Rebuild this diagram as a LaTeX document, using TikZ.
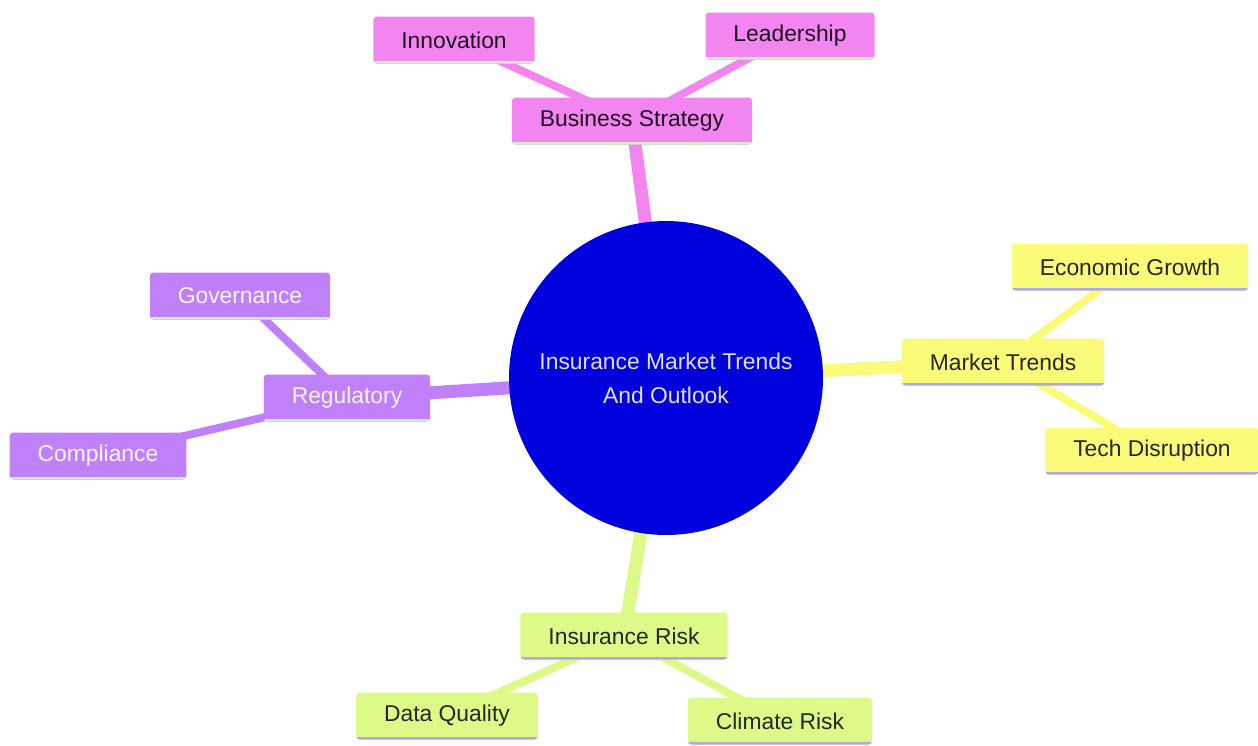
\documentclass[tikz,border=0pt]{standalone}
\usepackage{fontspec}
\setmainfont{Liberation Sans}
\usetikzlibrary{backgrounds}

\definecolor{rootblue}{HTML}{0000DC}
\definecolor{stratpink}{HTML}{F285F0}
\definecolor{regpurple}{HTML}{C080FA}
\definecolor{trendyellow}{HTML}{FBFB7A}
\definecolor{riskgreen}{HTML}{DDFA88}
\definecolor{lineGreen}{HTML}{C6F2BE}
\definecolor{lineLav}{HTML}{B4A6E6}

\tikzset{
  topic/.style={rectangle, rounded corners=2pt, minimum height=0.94cm,
    inner xsep=0.56cm, outer sep=0pt, font=\fontsize{13}{15}\selectfont},
  underline/.style={path picture={\draw[#1, line width=3.4pt]
    (path picture bounding box.south west) -- (path picture bounding box.south east);}},
  pinkbox/.style={topic, fill=stratpink, text=black!80!stratpink!60!black, underline=lineGreen},
  purplebox/.style={topic, fill=regpurple, text=white!92!regpurple, underline=lineGreen},
  yellowbox/.style={topic, fill=trendyellow, text=black!85, underline=lineLav},
  greenbox/.style={topic, fill=riskgreen, text=black!85, underline=lineLav},
  main/.style={line width=7.4pt},
  sub/.style={line width=4.5pt}
}

\begin{document}
\begin{tikzpicture}[x=0.02cm, y=-0.02cm]
      \useasboundingbox (0,0) rectangle (1258,745);
      % centre
      \node[circle, fill=rootblue, minimum size=6.28cm, inner sep=0pt, outer sep=0pt,
        text=white!88!blue, align=center, font=\fontsize{13}{19.5}\selectfont]
        (root) at (666,378) {Insurance Market Trends\\And Outlook};
      % branches
      \node[pinkbox] (strat) at (632,121) {Business Strategy};
      \node[pinkbox] (innov) at (454,40) {Innovation};
      \node[pinkbox] (lead) at (790,36) {Leadership};
      \node[purplebox] (reg) at (347,398) {Regulatory};
      \node[purplebox] (gov) at (240,296) {Governance};
      \node[purplebox] (comp) at (98,456) {Compliance};
      \node[yellowbox] (trends) at (1003,362) {Market Trends};
      \node[yellowbox] (econ) at (1130,267) {Economic Growth};
      \node[yellowbox] (tech) at (1152,451) {Tech Disruption};
      \node[greenbox] (risk) at (624,636) {Insurance Risk};
      \node[greenbox] (data) at (447,716) {Data Quality};
      \node[greenbox] (climate) at (780,721) {Climate Risk};
      \begin{pgfonlayer}{background}
        \draw[main, stratpink] (root.center) -- (strat.center);
        \draw[sub, stratpink] (strat.center) -- (innov.center);
        \draw[sub, stratpink] (strat.center) -- (lead.center);
        \draw[main, regpurple] (root.center) -- (reg.center);
        \draw[sub, regpurple] (reg.center) -- (gov.center);
        \draw[sub, regpurple] (reg.center) -- (comp.center);
        \draw[main, trendyellow] (root.center) -- (trends.center);
        \draw[sub, trendyellow] (trends.center) -- (econ.center);
        \draw[sub, trendyellow] (trends.center) -- (tech.center);
        \draw[main, riskgreen] (root.center) -- (risk.center);
        \draw[sub, riskgreen] (risk.center) -- (data.center);
        \draw[sub, riskgreen] (risk.center) -- (climate.center);
      \end{pgfonlayer}
    \end{tikzpicture}
\end{document}
